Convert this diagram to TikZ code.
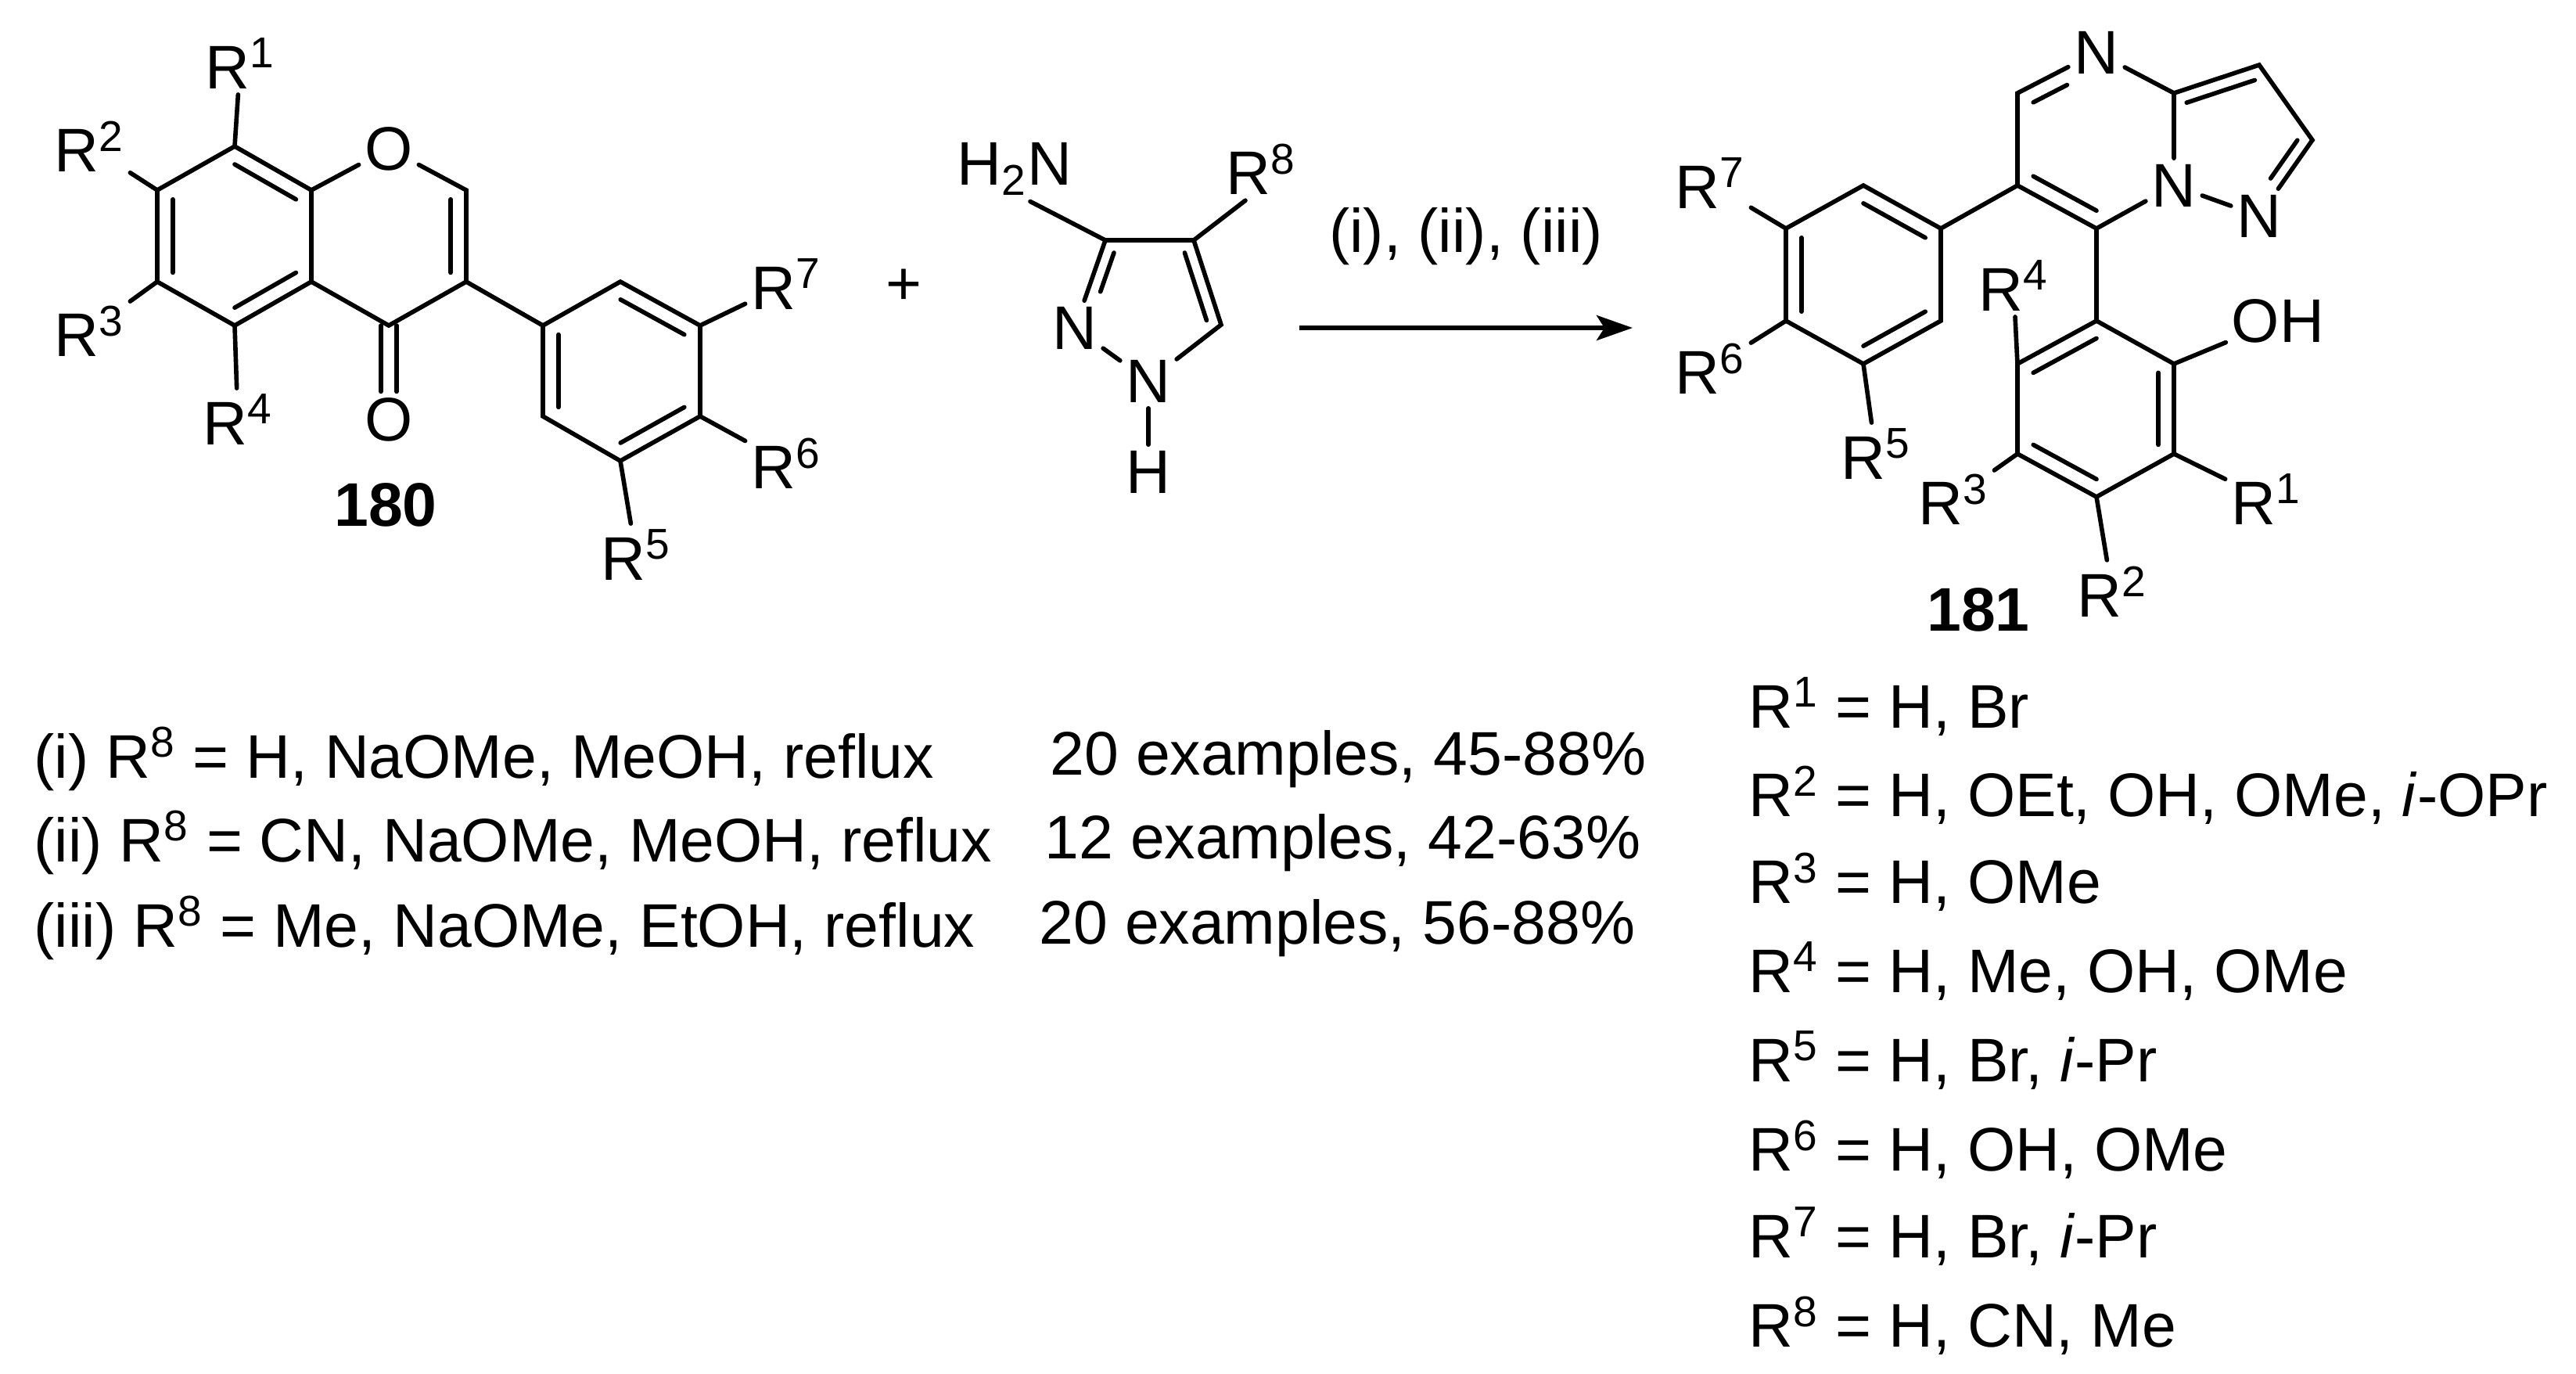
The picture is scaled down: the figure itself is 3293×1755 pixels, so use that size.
\documentclass[tikz,border=0pt]{standalone}
\usepackage{fontspec}
\setmainfont{Liberation Sans}
\usetikzlibrary{arrows.meta,positioning,calc}
\newcommand{\lbl}{\fontsize{22.4}{27}\selectfont}
\newcommand{\Rg}[1]{R\textsuperscript{#1}}
% inner line of a ring double bond
\newcommand{\dbond}[3]{\draw[bond] ($(#1)!.2!(#3)$) -- ($(#2)!.2!(#3)$);}
\tikzset{
  bond/.style = {line width=1.6pt, line cap=round},
  atom/.style = {inner sep=2pt, font=\lbl},
  cond/.style = {anchor=west, inner sep=0pt, font=\lbl},
}
\begin{document}
\begin{tikzpicture}[x = 0.1mm, y = -0.1mm]
  \useasboundingbox (0,0) rectangle (3293,1755);
  % ---------- 180 ----------
  \coordinate (a8) at (300,187);
  \coordinate (a7) at (201,243);
  \coordinate (a6) at (201,360);
  \coordinate (a5) at (300,416);
  \coordinate (a4a) at (398,360);
  \coordinate (a8a) at (398,243);
  \coordinate (a2) at (596,243);
  \coordinate (a3) at (596,360);
  \coordinate (a4) at (497,416);
  \coordinate (ab) at (300,302);
  \coordinate (ap) at (497,302);
  \coordinate (p1) at (694,416);
  \coordinate (p2) at (793,360);
  \coordinate (p3) at (895,416);
  \coordinate (p4) at (895,532);
  \coordinate (p5) at (793,589);
  \coordinate (p6) at (694,532);
  \coordinate (pc) at (794,474);
  \node[atom] (aO) at (497,190) {O};
  \node[atom] (aOk) at (497,536) {O};
  \node[atom] (aR1) at (307,81) {\Rg{1}};
  \node[atom] (aR2) at (114,187) {\Rg{2}};
  \node[atom] (aR3) at (114,423) {\Rg{3}};
  \node[atom] (aR4) at (304,536) {\Rg{4}};
  \node[atom] (aR5) at (813,709) {\Rg{5}};
  \node[atom] (aR6) at (1005,592) {\Rg{6}};
  \node[atom] (aR7) at (1005,363) {\Rg{7}};
  \node[atom, font=\lbl\bfseries] (n180) at (493,645) {180};
  \draw[bond] (a8) -- (a7) -- (a6) -- (a5) -- (a4a) -- (a8a) -- cycle;
  \draw[bond] (a8a) -- (aO) -- (a2) -- (a3) -- (a4) -- (a4a);
  \dbond{a8}{a8a}{ab}
  \dbond{a7}{a6}{ab}
  \dbond{a5}{a4a}{ab}
  \dbond{a2}{a3}{ap}
  \draw[bond] ($(a4)+(-10,0)$) -- ($(aOk.north)+(-10,0)$);
  \draw[bond] ($(a4)+(10,0)$) -- ($(aOk.north)+(10,0)$);
  \draw[bond] (a3) -- (p1);
  \draw[bond] (p1) -- (p2) -- (p3) -- (p4) -- (p5) -- (p6) -- cycle;
  \dbond{p2}{p3}{pc}
  \dbond{p4}{p5}{pc}
  \dbond{p6}{p1}{pc}
  \draw[bond] (a8) -- (aR1);
  \draw[bond] (a7) -- (aR2);
  \draw[bond] (a6) -- (aR3);
  \draw[bond] (a5) -- (aR4);
  \draw[bond] (p5) -- (aR5);
  \draw[bond] (p4) -- (aR6);
  \draw[bond] (p3) -- (aR7);
  % ---------- aminopyrazole ----------
  \node[atom] (plus) at (1155,367) {+};
  \coordinate (z3) at (1413,307);
  \coordinate (z4) at (1526,307);
  \coordinate (z5) at (1561,415);
  \coordinate (zc) at (1468,387);
  \node[atom] (zN1) at (1468,487) {N};
  \node[atom] (zN2) at (1374,419) {N};
  \node[atom] (zNH) at (1297,216) {H\textsubscript{2}N};
  \node[atom] (zR8) at (1612,216) {\Rg{8}};
  \node[atom] (zH) at (1468,603) {H};
  \draw[bond] (zN2) -- (z3) -- (z4) -- (z5) -- (zN1) -- (zN2);
  \draw[bond, shorten >=12pt] ($(z3)!.2!(zc)$) -- ($(zN2)!.2!(zc)$);
  \dbond{z4}{z5}{zc}
  \draw[bond] (zN1) -- (zH);
  \draw[bond] (z3) -- ($(zNH.south)+(20,0)$);
  \draw[bond] (z4) -- ($(zR8.south)+(-20,0)$);
  % ---------- arrow ----------
  \coordinate (ar1) at (1661,419);
  \coordinate (ar2) at (2087,419);
  \draw[bond, line cap=butt, -{Stealth[length=4.6mm, width=3.2mm, inset=1mm]}] (ar1) -- (ar2)
    node[midway, above=22pt, font=\lbl, inner sep=0pt] (cnd) {(i), (ii), (iii)};
  % ---------- 181 ----------
  \coordinate (b5) at (2579,119);
  \coordinate (b3a) at (2779,119);
  \coordinate (b7) at (2680,292);
  \coordinate (b6) at (2579,237);
  \coordinate (bc) at (2680,178);
  \coordinate (b3) at (2888,83);
  \coordinate (b2) at (2956,179);
  \coordinate (bz) at (2860,180);
  \node[atom] (bN4) at (2680,67) {N};
  \node[atom] (bN8) at (2779,237) {N};
  \node[atom] (bN1) at (2888,276) {N};
  \coordinate (q1) at (2481,292);
  \coordinate (q2) at (2382,237);
  \coordinate (q3) at (2283,292);
  \coordinate (q4) at (2283,410);
  \coordinate (q5) at (2382,465);
  \coordinate (q6) at (2481,410);
  \coordinate (qc) at (2382,351);
  \coordinate (h1) at (2680,410);
  \coordinate (h2) at (2779,465);
  \coordinate (h3) at (2779,580);
  \coordinate (h4) at (2680,635);
  \coordinate (h5) at (2579,580);
  \coordinate (h6) at (2579,465);
  \coordinate (hc) at (2680,522);
  \node[atom] (bOH) at (2912,410) {OH};
  \node[atom] (bR4) at (2574,365) {\Rg{4}};
  \node[atom] (bR3) at (2497,638) {\Rg{3}};
  \node[atom] (bR1) at (2897,638) {\Rg{1}};
  \node[atom] (bR2) at (2700,756) {\Rg{2}};
  \node[atom] (bR5) at (2398,580) {\Rg{5}};
  \node[atom] (bR6) at (2186,471) {\Rg{6}};
  \node[atom] (bR7) at (2186,234) {\Rg{7}};
  \node[atom, font=\lbl\bfseries] (n181) at (2529,779) {181};
  \draw[bond] (b6) -- (b5) -- (bN4) -- (b3a) -- (bN8) -- (b7) -- (b6);
  \draw[bond, shorten >=12pt] ($(b5)!.2!(bc)$) -- ($(bN4)!.2!(bc)$);
  \dbond{b6}{b7}{bc}
  \draw[bond] (b3a) -- (b3) -- (b2) -- (bN1) -- (bN8);
  \dbond{b3a}{b3}{bz}
  \draw[bond, shorten >=10pt] ($(b2)!.2!(bz)$) -- ($(bN1)!.2!(bz)$);
  \draw[bond] (b6) -- (q1);
  \draw[bond] (q1) -- (q2) -- (q3) -- (q4) -- (q5) -- (q6) -- cycle;
  \dbond{q1}{q2}{qc}
  \dbond{q3}{q4}{qc}
  \dbond{q5}{q6}{qc}
  \draw[bond] (q3) -- (bR7);
  \draw[bond] (q4) -- (bR6);
  \draw[bond] (q5) -- (bR5);
  \draw[bond] (b7) -- (h1);
  \draw[bond] (h1) -- (h2) -- (h3) -- (h4) -- (h5) -- (h6) -- cycle;
  \dbond{h1}{h6}{hc}
  \dbond{h2}{h3}{hc}
  \dbond{h4}{h5}{hc}
  \draw[bond] (h2) -- (bOH);
  \draw[bond] (h6) -- (bR4);
  \draw[bond] (h5) -- (bR3);
  \draw[bond] (h3) -- (bR1);
  \draw[bond] (h4) -- (bR2);
  % ---------- conditions ----------
  \node[cond] (c1) at (43,970) {(i) \Rg{8} = H, NaOMe, MeOH, reflux};
  \node[cond] (c2) at (43,1077) {(ii) \Rg{8} = CN, NaOMe, MeOH, reflux};
  \node[cond] (c3) at (43,1186) {(iii) \Rg{8} = Me, NaOMe, EtOH, reflux};
  \node[cond] (y1) at (1342,970) {20 examples, 45-88\%};
  \node[cond] (y2) at (1335,1077) {12 examples, 42-63\%};
  \node[cond] (y3) at (1328,1186) {20 examples, 56-88\%};
  % ---------- substituents ----------
  \node[cond] (s1) at (2235,903) {\Rg{1} = H, Br};
  \node[cond] (s2) at (2235,1016) {\Rg{2} = H, OEt, OH, OMe, \textit{i}-OPr};
  \node[cond] (s3) at (2235,1127) {\Rg{3} = H, OMe};
  \node[cond] (s4) at (2235,1241) {\Rg{4} = H, Me, OH, OMe};
  \node[cond] (s5) at (2235,1355) {\Rg{5} = H, Br, \textit{i}-Pr};
  \node[cond] (s6) at (2235,1469) {\Rg{6} = H, OH, OMe};
  \node[cond] (s7) at (2235,1580) {\Rg{7} = H, Br, \textit{i}-Pr};
  \node[cond] (s8) at (2235,1694) {\Rg{8} = H, CN, Me};
\end{tikzpicture}
\end{document}
